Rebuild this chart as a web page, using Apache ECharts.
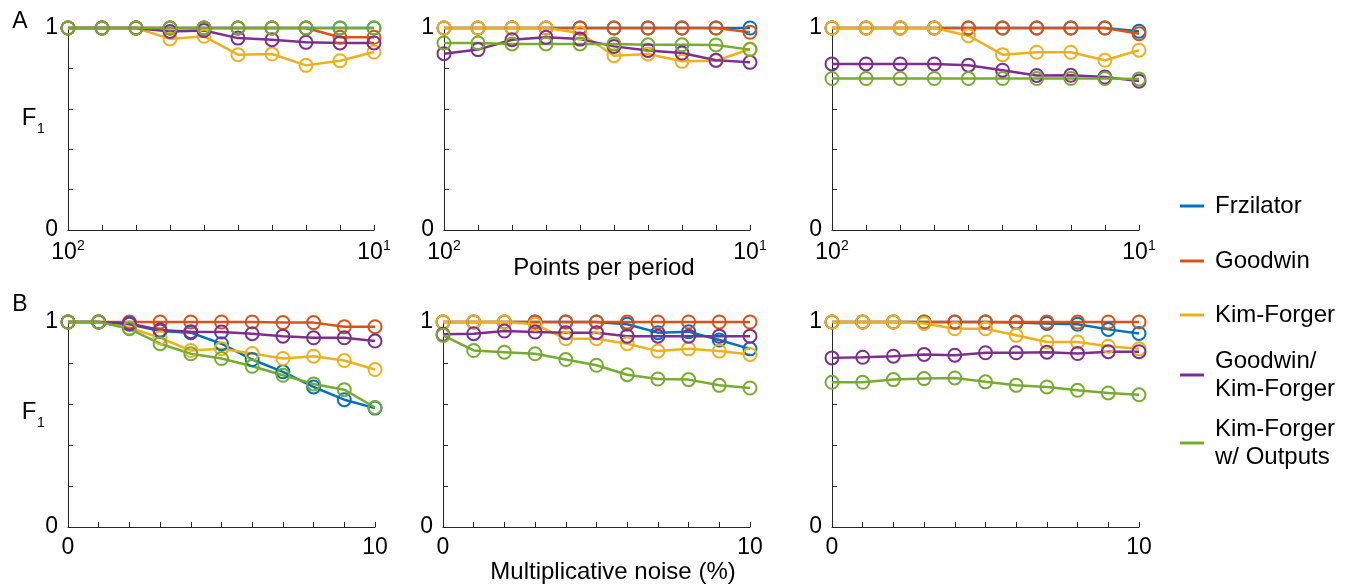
<!DOCTYPE html>
<html>
<head>
<meta charset="utf-8">
<script src="https://cdn.jsdelivr.net/npm/echarts@6/dist/echarts.min.js"></script>
<style>
  html, body { margin: 0; padding: 0; background: #fff; }
  #chart { width: 1353px; height: 585px; }
</style>
</head>
<body>
<div id="chart"></div>
<script>
// model names and colours (MATLAB default order)
const seriesNames = ['Frzilator', 'Goodwin', 'Kim-Forger', 'Goodwin/\nKim-Forger', 'Kim-Forger\nw/ Outputs'];
const colors = ['#0072BD', '#D95319', '#EDB120', '#7E2F8E', '#77AC30'];

// x values
const pointsPerPeriod = [100, 77, 60, 46, 36, 28, 22, 17, 13, 10];
const noiseLevels = [0, 1, 2, 3, 4, 5, 6, 7, 8, 9, 10];

// tick labels
const periodTickLabels = ['10^2', '10^1'];
const noiseTickLabels = [0, 10];
const f1TickLabels = [0, 1];

// row A: points per period, one array per model
const a1Frzilator = [1, 1, 1, 1, 1, 1, 1, 1, 1, 1];
const a1Goodwin = [1, 1, 1, 1, 1, 1, 1, 1, 0.954, 0.954];
const a1KimForger = [1, 1, 1, 0.946, 0.959, 0.868, 0.871, 0.815, 0.838, 0.881];
const a1GoodwinKF = [1, 1, 1, 0.983, 0.988, 0.95, 0.942, 0.929, 0.926, 0.926];
const a1KFOutputs = [1, 1, 1, 1, 1, 1, 1, 1, 1, 1];

const a2Frzilator = [1, 1, 1, 1, 1, 1, 1, 1, 1, 1];
const a2Goodwin = [1, 1, 1, 1, 1, 1, 1, 1, 1, 0.979];
const a2KimForger = [1, 1, 1, 1, 0.975, 0.863, 0.871, 0.835, 0.838, 0.896];
const a2GoodwinKF = [0.873, 0.893, 0.942, 0.954, 0.945, 0.909, 0.889, 0.876, 0.840, 0.830];
const a2KFOutputs = [0.926, 0.926, 0.921, 0.921, 0.921, 0.921, 0.917, 0.917, 0.916, 0.893];

const a3Frzilator = [1, 1, 1, 1, 1, 1, 1, 1, 1, 0.984];
const a3Goodwin = [1, 1, 1, 1, 1, 1, 1, 1, 1, 0.972];
const a3KimForger = [1, 1, 1, 1, 0.962, 0.868, 0.880, 0.880, 0.840, 0.890];
const a3GoodwinKF = [0.822, 0.822, 0.822, 0.822, 0.816, 0.791, 0.765, 0.766, 0.757, 0.737];
const a3KFOutputs = [0.75, 0.75, 0.75, 0.75, 0.75, 0.75, 0.75, 0.75, 0.75, 0.748];

// row B: multiplicative noise
const b1Frzilator = [1, 1, 0.989, 0.956, 0.948, 0.894, 0.817, 0.757, 0.683, 0.621, 0.580];
const b1Goodwin = [1, 1, 1, 1, 1, 1, 1, 0.997, 0.997, 0.977, 0.977];
const b1KimForger = [1, 1, 0.972, 0.923, 0.861, 0.870, 0.846, 0.822, 0.833, 0.812, 0.768];
const b1GoodwinKF = [1, 1, 0.993, 0.961, 0.953, 0.951, 0.943, 0.931, 0.923, 0.923, 0.907];
const b1KFOutputs = [1, 1, 0.967, 0.894, 0.845, 0.822, 0.784, 0.740, 0.698, 0.670, 0.583];

const b2Frzilator = [1, 1, 1, 1, 1, 1, 0.989, 0.948, 0.953, 0.912, 0.869];
const b2Goodwin = [1, 1, 1, 1, 1, 1, 1, 1, 1, 1, 1];
const b2KimForger = [1, 1, 1, 0.989, 0.918, 0.918, 0.894, 0.858, 0.869, 0.858, 0.842];
const b2GoodwinKF = [0.940, 0.943, 0.956, 0.951, 0.948, 0.948, 0.931, 0.931, 0.931, 0.931, 0.931];
const b2KFOutputs = [0.935, 0.861, 0.853, 0.845, 0.817, 0.789, 0.743, 0.722, 0.719, 0.691, 0.678];

const b3Frzilator = [1, 1, 1, 1, 1, 1, 0.997, 0.993, 0.989, 0.964, 0.944];
const b3Goodwin = [1, 1, 1, 1, 1, 1, 1, 1, 1, 1, 1];
const b3KimForger = [1, 1, 1, 0.993, 0.967, 0.967, 0.935, 0.902, 0.902, 0.882, 0.869];
const b3GoodwinKF = [0.825, 0.828, 0.833, 0.842, 0.838, 0.850, 0.850, 0.853, 0.846, 0.855, 0.855];
const b3KFOutputs = [0.706, 0.706, 0.719, 0.724, 0.727, 0.708, 0.691, 0.683, 0.667, 0.654, 0.645];

const panels = [
  [a1Frzilator, a1Goodwin, a1KimForger, a1GoodwinKF, a1KFOutputs],
  [a2Frzilator, a2Goodwin, a2KimForger, a2GoodwinKF, a2KFOutputs],
  [a3Frzilator, a3Goodwin, a3KimForger, a3GoodwinKF, a3KFOutputs],
  [b1Frzilator, b1Goodwin, b1KimForger, b1GoodwinKF, b1KFOutputs],
  [b2Frzilator, b2Goodwin, b2KimForger, b2GoodwinKF, b2KFOutputs],
  [b3Frzilator, b3Goodwin, b3KimForger, b3GoodwinKF, b3KFOutputs]
];

const FONT = '"Liberation Sans", Arial, sans-serif';
const AXIS_COLOR = '#262626';

let chart = echarts.init(document.getElementById('chart'));

let grids = [
  {left: 68, top: 28, width: 306, height: 202},
  {left: 444, top: 28, width: 306, height: 202},
  {left: 832, top: 28, width: 307, height: 202},
  {left: 68, top: 322, width: 307, height: 205},
  {left: 443, top: 322, width: 307, height: 205},
  {left: 832, top: 322, width: 307, height: 205}
];

let axisLine = {show: true, lineStyle: {color: AXIS_COLOR, width: 1}};
let axisTick = {show: true, inside: true, length: 5, lineStyle: {color: AXIS_COLOR, width: 1}};

function supLabel (txt) {
  let parts = txt.split('^');
  return '{n|' + parts[0] + '}{s|' + parts[1] + '}';
}

let xAxes = grids.map((g, i) => {
  if (i < 3) {
    return {
      type: 'category', gridIndex: i, data: pointsPerPeriod, boundaryGap: false,
      axisLine: axisLine, axisTick: Object.assign({interval: 0}, axisTick),
      splitLine: {show: false},
      axisLabel: {
        interval: 0, margin: 9, color: '#000', fontFamily: FONT, fontSize: 23,
        formatter: (v, idx) => idx === 0 ? supLabel(periodTickLabels[0])
          : (idx === pointsPerPeriod.length - 1 ? supLabel(periodTickLabels[1]) : ''),
        rich: {
          n: {fontSize: 23, fontFamily: FONT, color: '#000'},
          s: {fontSize: 14, fontFamily: FONT, color: '#000', padding: [0, 0, 14, 0]}
        }
      }
    };
  }
  return {
    type: 'value', gridIndex: i, min: 0, max: 10, interval: 1,
    axisLine: axisLine, axisTick: axisTick, splitLine: {show: false},
    axisLabel: {
      margin: 9, color: '#000', fontFamily: FONT, fontSize: 23,
      formatter: v => noiseTickLabels.indexOf(Math.round(v * 1000) / 1000) >= 0 ? String(v) : ''
    }
  };
});

let yAxes = grids.map((g, i) => ({
  type: 'value', gridIndex: i, min: 0, max: 1, interval: 0.2,
  axisLine: axisLine, axisTick: axisTick, splitLine: {show: false},
  axisLabel: {
    margin: 10, color: '#000', fontFamily: FONT, fontSize: 23, showMinLabel: true, showMaxLabel: true,
    formatter: v => {
      let r = Math.round(v * 1000) / 1000;
      return f1TickLabels.indexOf(r) >= 0 ? String(r) : '';
    }
  }
}));

let series = [];
panels.forEach((models, p) => {
  models.forEach((vals, m) => {
    let data = p < 3 ? vals : vals.map((y, k) => [noiseLevels[k], y]);
    series.push({
      type: 'line',
      name: seriesNames[m],
      xAxisIndex: p,
      yAxisIndex: p,
      data: data,
      color: colors[m],
      symbol: 'circle',
      symbolSize: 13,
      clip: false,
      lineStyle: {color: colors[m], width: 2.5},
      itemStyle: {color: 'rgba(0,0,0,0)', borderColor: colors[m], borderWidth: 2},
      emphasis: {disabled: true},
      animation: false
    });
  });
});

let legendTops = [192, 247, 301, 347, 415];
let legends = seriesNames.map((n, i) => ({
  data: [{name: n, itemStyle: {color: colors[i], borderWidth: 0}}],
  left: 1180, top: legendTops[i], orient: 'vertical', padding: 0,
  icon: 'rect', itemWidth: 24, itemHeight: 3, selectedMode: false,
  textStyle: {fontSize: 24, lineHeight: 28, color: '#000', fontFamily: FONT, padding: [0, 0, 0, 6]}
}));

function label (txt, x, y, size) {
  return {
    type: 'text', x: x, y: y, silent: true,
    style: {text: txt, fill: '#000', font: size + 'px ' + FONT, textAlign: 'center', textVerticalAlign: 'middle'}
  };
}

let option = {
  backgroundColor: '#fff',
  animation: false,
  grid: grids,
  xAxis: xAxes,
  yAxis: yAxes,
  legend: legends,
  series: series,
  graphic: [
    label('A', 20, 22, 23),
    label('B', 20, 305, 23),
    label('F', 29, 118, 24),
    label('1', 41, 129, 14),
    label('F', 29, 412, 24),
    label('1', 41, 423, 14),
    label('Points per period', 604, 268, 24),
    label('Multiplicative noise (%)', 613, 572, 24)
  ]
};

chart.setOption(option);
</script>
</body>
</html>
